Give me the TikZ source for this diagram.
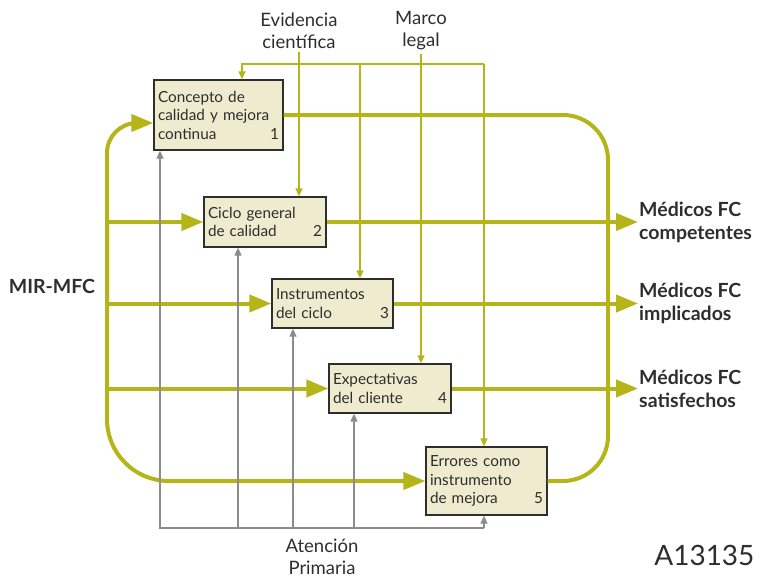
\documentclass[tikz,border=0pt]{standalone}
\usepackage{fontspec}
\setmainfont{Lato}
\usetikzlibrary{arrows.meta,positioning,calc}
\definecolor{colive}{HTML}{B5B418}
\definecolor{cbox}{HTML}{EEEBCF}
\definecolor{cgrey}{HTML}{8C8C8C}
\definecolor{ctext}{HTML}{2E2E2E}

\begin{document}
\begin{tikzpicture}[x=1pt, y=-1pt,
      box/.style={draw=ctext, line width=1.3pt, fill=cbox, inner sep=4pt, align=left,
        text=ctext, font=\fontsize{15.3}{18.5}\selectfont, minimum height=#1},
      lbl/.style={text=ctext, align=center, font=\fontsize{18.5}{22}\selectfont},
      res/.style={text=ctext, align=left, anchor=west, inner sep=1pt,
        font=\fontsize{19.5}{23}\selectfont\bfseries},
      big/.style={->, draw=colive, line width=4pt, >={Triangle[length=22pt,width=17pt]}},
      thin/.style={->, draw=colive, line width=1.3pt, >={Triangle[length=8pt,width=7pt]}},
      grey/.style={->, draw=cgrey, line width=1.3pt, >={Triangle[length=8pt,width=7pt]}}
    ]
    \useasboundingbox (0,0) rectangle (763,578);
    % boxes
    \node[box=70pt, text width=121pt] (b1) at (218.5,115) {Concepto de\\calidad y mejora\\continua\hfill 1};
    \node[box=50pt, text width=114pt] (b2) at (265,222) {Ciclo general\\de calidad\hfill 2};
    \node[box=49pt, text width=113pt] (b3) at (332.5,303.5) {Instrumentos\\del ciclo\hfill 3};
    \node[box=49pt, text width=114pt] (b4) at (390,388.5) {Expectativas\\del cliente\hfill 4};
    \node[box=68pt, text width=113pt] (b5) at (486.5,481) {Errores como\\instrumento\\de mejora\hfill 5};
    % labels
    \node[lbl] (evi) at (299,31) {Evidencia\\científica};
    \node[lbl] (marco) at (421,31) {Marco\\legal};
    \node[lbl] (ap) at (322,557) {Atención\\Primaria};
    \node[res, anchor=center] (mir) at (52,286) {MIR-MFC};
    \node[res] (r1) at (638,222) {Médicos FC\\competentes};
    \node[res] (r2) at (638,303.5) {Médicos FC\\implicados};
    \node[res] (r3) at (638,388.5) {Médicos FC\\satisfechos};
    \node[anchor=base east, text=ctext, font=\fontsize{28}{32}\selectfont] (code) at (758,565) {A13135};
    \coordinate (trunk) at (107,300);
    \coordinate (top) at (484,64);
    \coordinate (foot) at (484,528);
    \coordinate (loop) at (608,300);
    % thick lines
    \draw[big, rounded corners=30pt] (trunk) -- (trunk |- 0,123) -- ([yshift=-8pt]b1.west);
    \draw[big, rounded corners=62pt] (trunk |- b2.west) -- (trunk |- b5.west) -- (b5.west);
    \draw[big] (trunk |- b2.west) -- (b2.west);
    \draw[big] (trunk |- b3.west) -- (b3.west);
    \draw[big] (trunk |- b4.west) -- (b4.west);
    \draw[line width=4pt, colive, rounded corners=45pt] (b1.east) -- (loop |- b1.east) -- (loop |- b5.east) -- (b5.east);
    \draw[big] (b2.east) -- (r1.west);
    \draw[big] (b3.east) -- (r2.west);
    \draw[big] (b4.east) -- (r3.west);
    % top inputs
    \draw[thin] (top) -- (242,64) -- (242,64 |- b1.north);
    \draw[thin] (top) -- (top |- b5.north);
    \draw[thin] (360,64) -- (360,64 |- b3.north);
    \draw[thin] (evi.south) -- (evi.south |- b2.north);
    \draw[thin] (marco.south) -- (marco.south |- b4.north);
    % bottom inputs
    \draw[grey] (foot) -- (foot -| 160,0) -- (160,0 |- b1.south);
    \draw[grey] (foot) -- (b5.south -| foot);
    \draw[grey] (foot -| 238,0) -- (238,0 |- b2.south);
    \draw[grey] (foot -| 293,0) -- (293,0 |- b3.south);
    \draw[grey] (foot -| 354,0) -- (354,0 |- b4.south);
  \end{tikzpicture}
\end{document}
